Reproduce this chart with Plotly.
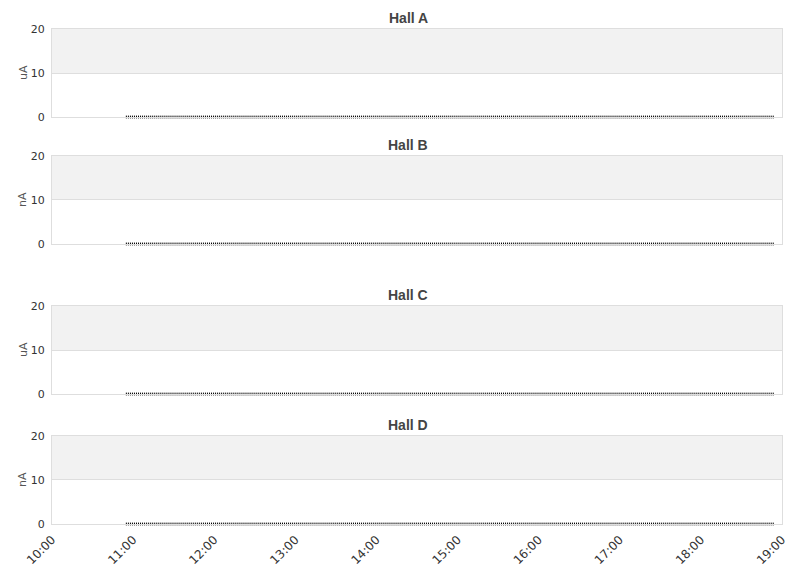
import pandas as pd
from plotly.subplots import make_subplots
import plotly.graph_objects as go

# data
halls = ["Hall A", "Hall B", "Hall C", "Hall D"]
units = ["uA", "nA", "uA", "nA"]
t_start = "2024-01-01 10:55"
t_end = "2024-01-01 18:54"
times = pd.date_range(t_start, t_end, freq="90s")
current = {h: [0.0] * len(times) for h in halls}
y_ticks = [0, 10, 20]
x_range = ["2024-01-01 10:00", "2024-01-01 19:00"]

domains = [[0.8222, 1.0], [0.5657, 0.7434], [0.2626, 0.4404], [0.0, 0.1778]]
grid = "#dedede"

fig = make_subplots(rows=4, cols=1, shared_xaxes=True)

for i, h in enumerate(halls):
    r = i + 1
    fig.add_trace(go.Scatter(
        x=times, y=current[h], mode="markers", name=h, showlegend=False,
        marker=dict(symbol="line-ns", size=2, color="#000",
                    line=dict(width=1, color="#000")),
        cliponaxis=False,
    ), row=r, col=1)
    ax = "" if r == 1 else str(r)
    fig.add_shape(type="rect", xref="x%s domain" % ax, yref="y" + ax,
                  x0=0, x1=1, y0=10, y1=20, fillcolor="#f2f2f2",
                  line_width=0, layer="below")
    fig.add_annotation(text="<b>%s</b>" % h, xref="paper", yref="paper",
                       x=0.4877, y=domains[i][1], yshift=11, showarrow=False,
                       yanchor="middle",
                       font=dict(family="Liberation Sans, Arial", size=14,
                                 color="#444"))
    # unit label on the left
    fig.add_annotation(text=units[i], xref="paper", yref="paper",
                       x=-0.0397, y=sum(domains[i]) / 2, textangle=-90,
                       showarrow=False, xanchor="center", yanchor="middle",
                       font=dict(size=11, color="#555"))
    fig.update_yaxes(domain=domains[i], range=[0, 20], tickvals=y_ticks,
                     showgrid=True, gridcolor=grid, zeroline=False,
                     showline=True, linecolor=grid, mirror=True,
                     ticks="", ticklabelstandoff=4, automargin=False,
                     tickfont=dict(size=11, color="#333"),
                     row=r, col=1)
    fig.update_xaxes(range=x_range, showgrid=False, zeroline=False,
                     showline=True, linecolor=grid, mirror=True,
                     dtick=3600000, tickformat="%H:%M", tickangle=-45,
                     ticks="", showticklabels=(r == 4), automargin=False,
                     ticklabelstandoff=3,
                     tickfont=dict(size=12, color="#333"),
                     row=r, col=1)

fig.update_layout(
    width=803, height=570,
    margin=dict(l=44, r=29, t=21, b=54),
    plot_bgcolor="white", paper_bgcolor="white",
    font=dict(family="DejaVu Sans, Verdana", color="#333"),
)

fig.write_html("out.html")
